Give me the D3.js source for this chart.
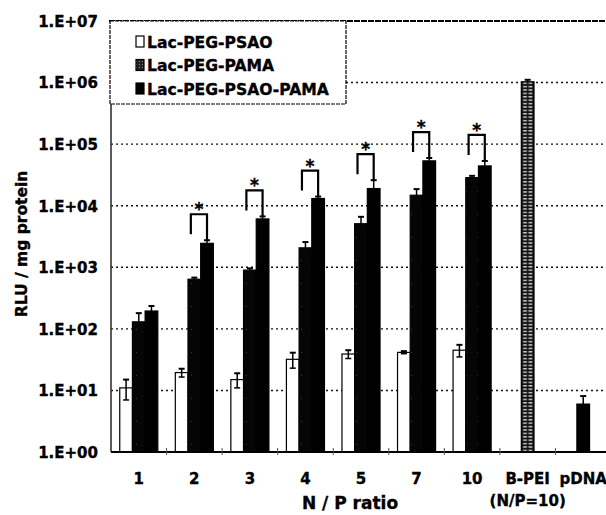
<!DOCTYPE html>
<html>
<head>
<meta charset="utf-8">
<script src="https://cdn.jsdelivr.net/npm/d3@7/dist/d3.min.js"></script>
<style>
  html, body { margin: 0; padding: 0; background: #fff; }
  svg { display: block; }
  text { font-family: "DejaVu Sans", Verdana, sans-serif; font-weight: bold; fill: #000; stroke: #000; stroke-width: 0.35px; }
</style>
</head>
<body>
<svg id="chart" width="606" height="515"></svg>
<script>
// ---------- data ----------
const categories = ["1", "2", "3", "4", "5", "7", "10", "B-PEI", "pDNA"];
const groupCategories = ["1", "2", "3", "4", "5", "7", "10"];
const seriesNames = ["Lac-PEG-PSAO", "Lac-PEG-PAMA", "Lac-PEG-PSAO-PAMA"];
const psaoValues = [11, 19.5, 15, 32, 39, 41.5, 45];
const psaoErrors = [4, 3, 4, 9, 6, 2, 10];
const pamaValues = [130, 640, 900, 2070, 5100, 14800, 28600];
const pamaErrors = [50, 40, 60, 500, 1500, 3800, 2000];
const psaoPamaValues = [195, 2450, 6100, 13100, 19000, 53500, 44300];
const psaoPamaErrors = [40, 300, 600, 1000, 7000, 6000, 9000];
const controlNames = ["B-PEI", "pDNA"];
const controlValues = [1030000, 6.0];
const controlErrors = [80000, 2.1];
const significantCategories = ["2", "3", "4", "5", "7", "10"];
const yTickValues = [1, 10, 100, 1000, 10000, 100000, 1000000, 10000000];
const yTickLabels = ["1.E+00", "1.E+01", "1.E+02", "1.E+03", "1.E+04", "1.E+05", "1.E+06", "1.E+07"];
const xLabelsSecondLine = { "B-PEI": "(N/P=10)" };
const yTitle = "RLU / mg protein";
const xTitle = "N / P ratio";

// ---------- layout ----------
const svg = d3.select("#chart");
const plotLeft = 111, plotRight = 611, plotTop = 21, plotBottom = 452;

const x = d3.scaleBand().domain(categories).range([plotLeft, plotRight]).padding(0);
const x1 = d3.scaleBand().domain(seriesNames).range([0, x.bandwidth()]).paddingInner(0).paddingOuter(0.69);
const y = d3.scaleLog().domain([1, 1e7]).range([plotBottom, plotTop]);

// patterns
const defs = svg.append("defs");
const pamaPat = defs.append("pattern").attr("id", "pamaPat")
  .attr("patternUnits", "userSpaceOnUse").attr("width", 11).attr("height", 23);
pamaPat.append("rect").attr("width", 11).attr("height", 23).attr("fill", "#050505");
pamaPat.append("rect").attr("x", 4).attr("y", 7).attr("width", 1).attr("height", 1).attr("fill", "#3a3a3a");

const legPat = defs.append("pattern").attr("id", "legPamaPat")
  .attr("patternUnits", "userSpaceOnUse").attr("width", 3).attr("height", 3);
legPat.append("rect").attr("width", 3).attr("height", 3).attr("fill", "#222");
legPat.append("rect").attr("x", 1).attr("y", 1).attr("width", 1).attr("height", 1).attr("fill", "#888");

// ---------- gridlines ----------
const gridG = svg.append("g");
gridG.selectAll("line.grid").data(yTickValues.filter(v => v > 1 && v < 1e7))
  .join("line").attr("class", "grid")
  .attr("x1", plotLeft).attr("x2", 606)
  .attr("y1", d => y(d)).attr("y2", d => y(d))
  .attr("stroke", "#111").attr("stroke-width", 1.4).attr("stroke-dasharray", "2,3");
gridG.append("line").attr("x1", plotLeft - 2).attr("x2", 606)
  .attr("y1", y(1e7)).attr("y2", y(1e7))
  .attr("stroke", "#000").attr("stroke-width", 2).attr("stroke-dasharray", "6,1");

// ---------- bars ----------
const barsG = svg.append("g");
const groups = [
  { name: seriesNames[0], vals: psaoValues, errs: psaoErrors, fill: "#fff" },
  { name: seriesNames[1], vals: pamaValues, errs: pamaErrors, fill: "url(#pamaPat)" },
  { name: seriesNames[2], vals: psaoPamaValues, errs: psaoPamaErrors, fill: "#000" }
];
const barRecs = [];
groups.forEach(g => {
  groupCategories.forEach((c, i) => {
    barRecs.push({ cat: c, series: g.name, value: g.vals[i], err: g.errs[i], fill: g.fill,
      x: x(c) + x1(g.name), w: x1.bandwidth() });
  });
});
controlNames.forEach((c, i) => {
  barRecs.push({ cat: c, series: seriesNames[1], value: controlValues[i], err: controlErrors[i],
    fill: c === "B-PEI" ? "url(#bpeiPat)" : "#000", x: x(c) + x1(seriesNames[1]), w: x1.bandwidth() });
});

const bpeiX = x("B-PEI") + x1(seriesNames[1]);
const bw = x1.bandwidth();
const bpeiPat = defs.append("pattern").attr("id", "bpeiPat")
  .attr("patternUnits", "userSpaceOnUse").attr("x", bpeiX).attr("y", 0)
  .attr("width", bw).attr("height", 3.4);
bpeiPat.append("rect").attr("width", bw).attr("height", 3.4).attr("fill", "#141414");
bpeiPat.append("rect").attr("x", 1.8).attr("y", 1).attr("width", bw / 2 - 2.6).attr("height", 1.2).attr("fill", "#f0f0f0");
bpeiPat.append("rect").attr("x", bw / 2 + 0.9).attr("y", 1).attr("width", bw / 2 - 2.6).attr("height", 1.2).attr("fill", "#f0f0f0");

barsG.selectAll("rect.bar").data(barRecs).join("rect").attr("class", "bar")
  .attr("x", d => d.x).attr("width", d => d.w)
  .attr("y", d => y(d.value)).attr("height", d => y(1) - y(d.value))
  .attr("fill", d => d.fill)
  .attr("stroke", "#000").attr("stroke-width", 1.2);

// error bars
const errG = svg.append("g").attr("stroke", "#000").attr("stroke-width", 1.5);
barRecs.forEach(d => {
  const cx = d.x + d.w / 2;
  const yHi = y(d.value + d.err), yLo = y(Math.max(d.value - d.err, 1.01));
  const isWhite = d.fill === "#fff";
  const line = d3.line();
  errG.append("path").attr("d", line([[cx, yHi], [cx, isWhite ? yLo : y(d.value)]])).attr("fill", "none");
  errG.append("path").attr("d", line([[cx - 3, yHi], [cx + 3, yHi]])).attr("stroke-width", 2);
  if (isWhite) errG.append("path").attr("d", line([[cx - 3, yLo], [cx + 3, yLo]]));
});

// significance brackets
const sigG = svg.append("g");
significantCategories.forEach(c => {
  const i = groupCategories.indexOf(c);
  const xl = x(c) + x1(seriesNames[1]) + x1.bandwidth() / 2 - 3.5;
  const xr = x(c) + x1(seriesNames[2]) + x1.bandwidth() / 2;
  const yr = y(psaoPamaValues[i] + psaoPamaErrors[i]);
  const yt = yr - 26;
  sigG.append("path")
    .attr("d", d3.line()([[xl, yt + 20], [xl, yt], [xr, yt], [xr, yr]]))
    .attr("fill", "none").attr("stroke", "#000").attr("stroke-width", 2.2);
  sigG.append("text").attr("x", (xl + xr) / 2).attr("y", yt + 1)
    .attr("text-anchor", "middle").attr("font-size", 17).text("*");
});

// ---------- axes ----------
svg.append("line").attr("x1", plotLeft).attr("x2", plotLeft).attr("y1", plotTop).attr("y2", plotBottom)
  .attr("stroke", "#333").attr("stroke-width", 1.6);
svg.append("line").attr("x1", plotLeft).attr("x2", 606).attr("y1", plotBottom).attr("y2", plotBottom)
  .attr("stroke", "#000").attr("stroke-width", 2);

const yAxis = d3.axisLeft(y).tickValues(yTickValues)
  .tickFormat((d, i) => yTickLabels[i]).tickSize(0).tickPadding(13);
const yG = svg.append("g").attr("transform", `translate(${plotLeft},0)`).call(yAxis);
yG.select(".domain").remove();
yG.selectAll("text").attr("font-size", 15).attr("font-family", "DejaVu Sans").attr("font-weight", "bold").attr("dy", "0.36em");

const xAxis = d3.axisBottom(x).tickSize(0).tickPadding(21);
const xG = svg.append("g").attr("transform", `translate(0,${plotBottom})`).call(xAxis);
xG.select(".domain").remove();
xG.selectAll("text").attr("font-size", 15).attr("font-family", "DejaVu Sans").attr("font-weight", "bold")
  .each(function (d) {
    if (xLabelsSecondLine[d]) {
      d3.select(this).append("tspan").attr("x", 0).attr("dy", "1.5em").text(xLabelsSecondLine[d]);
    }
  });
svg.append("g").selectAll("line").data(categories.slice(1))
  .join("line").attr("x1", d => x(d)).attr("x2", d => x(d))
  .attr("y1", plotBottom - 4).attr("y2", plotBottom + 3).attr("stroke", "#555").attr("stroke-width", 1);

// titles
svg.append("text").attr("transform", `translate(27,244) rotate(-90)`)
  .attr("text-anchor", "middle").attr("font-size", 15.5).text(yTitle);
svg.append("text").attr("x", 350).attr("y", 509)
  .attr("text-anchor", "middle").attr("font-size", 17).text(xTitle);

// ---------- legend ----------
const legG = svg.append("g");
legG.append("rect").attr("x", 110).attr("y", plotTop).attr("width", 236).attr("height", 83)
  .attr("fill", "#fff").attr("stroke", "#000").attr("stroke-width", 1.2).attr("stroke-dasharray", "4,1");
const legFills = ["#fff", "url(#legPamaPat)", "#000"];
seriesNames.forEach((s, i) => {
  const cy = 42 + i * 23.5;
  legG.append("rect").attr("x", 136).attr("y", cy - 6).attr("width", 8).attr("height", 11)
    .attr("fill", legFills[i]).attr("stroke", "#000").attr("stroke-width", 1.2);
  legG.append("text").attr("x", 147).attr("y", cy + 5.5).attr("font-size", 15.6).text(s);
});
</script>
</body>
</html>
